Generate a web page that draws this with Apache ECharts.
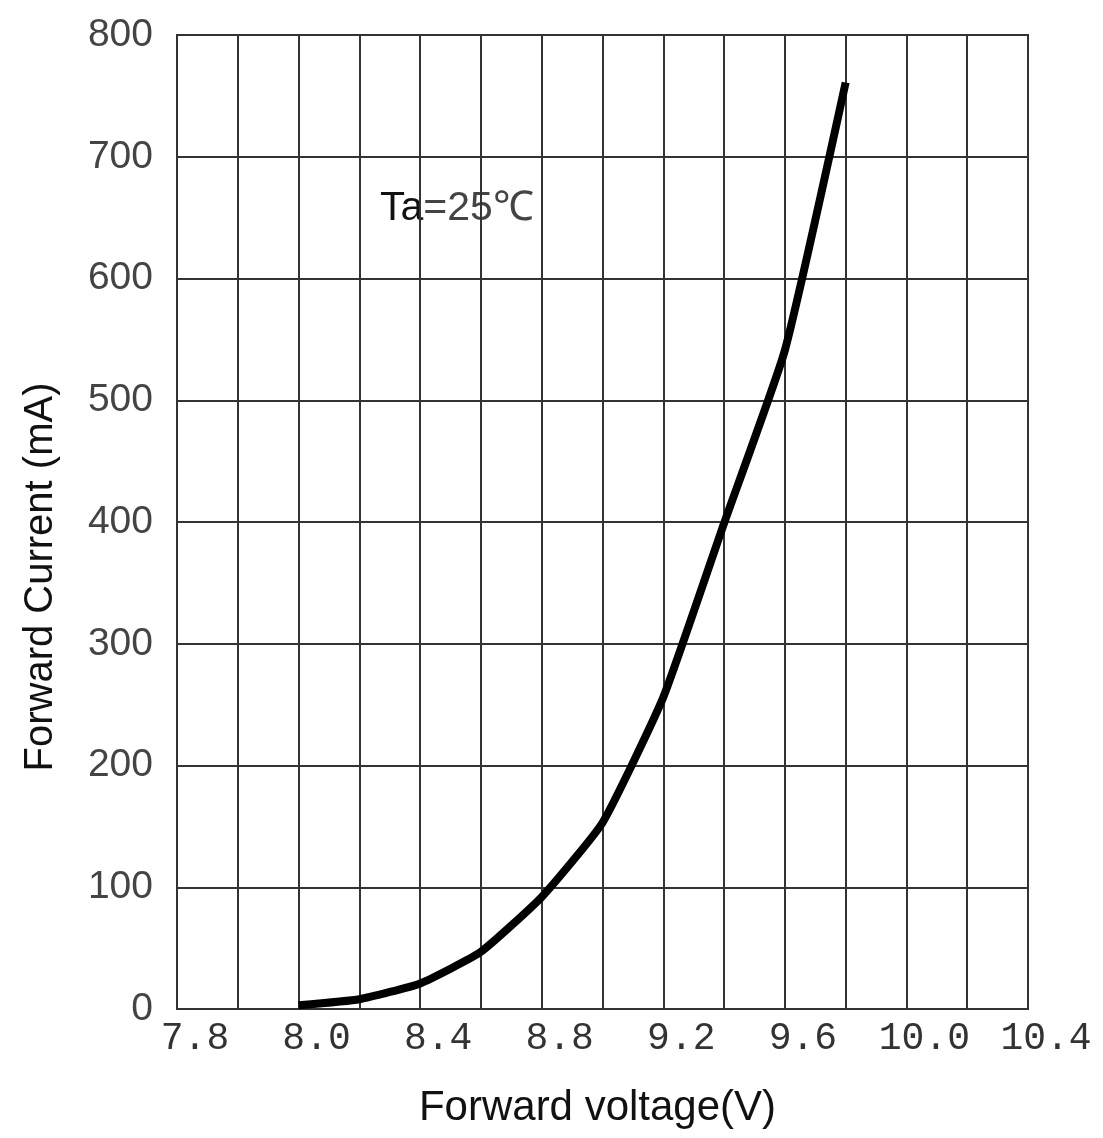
<!DOCTYPE html>
<html>
<head>
<meta charset="utf-8">
<script src="https://cdn.jsdelivr.net/npm/echarts@6/dist/echarts.min.js"></script>
<style>
html,body{margin:0;padding:0;background:#fff;}
#chart{width:1103px;height:1138px;}
</style>
</head>
<body>
<div id="chart"></div>
<script>
// Data
var voltage = [8.0, 8.2, 8.4, 8.6, 8.8, 9.0, 9.2, 9.4, 9.6, 9.8];
var current = [3, 8, 21, 47, 92, 153, 256, 399, 541, 761];
var xTickLabels = ["7.8", "8.0", "8.4", "8.8", "9.2", "9.6", "10.0", "10.4"];
var yTickLabels = ["0", "100", "200", "300", "400", "500", "600", "700", "800"];
var xName = "Forward voltage(V)";
var yName = "Forward Current (mA)";
var noteText = ["Ta", "=25\u2103"];

var X_MIN = 7.6, X_MAX = 10.4, X_STEP = 0.2;

var chart = echarts.init(document.getElementById('chart'));
var lineColor = '#333';
chart.setOption({
  animation: false,
  backgroundColor: '#fff',
  grid: {
    left: 177, right: 75, top: 35, bottom: 129,
    show: true, borderColor: lineColor, borderWidth: 2
  },
  graphic: [{
    type: 'text',
    left: 380, top: 188,
    style: {
      text: '{a|' + noteText[0] + '}{b|' + noteText[1] + '}',
      rich: {
        a: {fontFamily: 'Liberation Sans', fontSize: 41, fill: '#111'},
        b: {fontFamily: 'Liberation Sans', fontSize: 41, fill: '#444'}
      }
    }
  }],
  xAxis: {
    type: 'value',
    min: X_MIN, max: X_MAX, interval: X_STEP,
    name: xName,
    nameLocation: 'middle',
    nameGap: 78,
    nameTextStyle: {fontFamily: 'Liberation Sans', fontSize: 42, color: '#111', padding: [0, 10, 0, 0]},
    axisLine: {show: true, lineStyle: {color: lineColor, width: 2}},
    axisTick: {show: false},
    splitLine: {show: true, lineStyle: {color: lineColor, width: 2}},
    axisLabel: {
      showMinLabel: true, showMaxLabel: true,
      fontFamily: 'Liberation Mono', fontSize: 38, color: '#333',
      margin: 11,
      padding: [0, 0, 0, 36],
      formatter: function (v) {
        var i = Math.round((v - X_MIN) / X_STEP);
        if (i % 2 !== 0) return '';
        return xTickLabels[i / 2] || '';
      }
    }
  },
  yAxis: {
    type: 'value',
    min: 0, max: 800, interval: 100,
    name: yName,
    nameLocation: 'middle',
    nameGap: 116,
    nameTextStyle: {fontFamily: 'Liberation Sans', fontSize: 40, color: '#111', padding: [0, 110, 0, 0]},
    axisLine: {show: true, lineStyle: {color: lineColor, width: 2}},
    axisTick: {show: false},
    splitLine: {show: true, lineStyle: {color: lineColor, width: 2}},
    axisLabel: {
      showMinLabel: true, showMaxLabel: true,
      fontFamily: 'Liberation Sans', fontSize: 39, color: '#444',
      margin: 24,
      formatter: function (v) {
        return yTickLabels[Math.round(v / 100)];
      }
    }
  },
  series: [{
    type: 'line',
    data: voltage.map(function (v, i) { return [v, current[i]]; }),
    showSymbol: false,
    smooth: 0.15,
    lineStyle: {color: '#000', width: 8, cap: 'butt', join: 'round'}
  }]
});
</script>
</body>
</html>
